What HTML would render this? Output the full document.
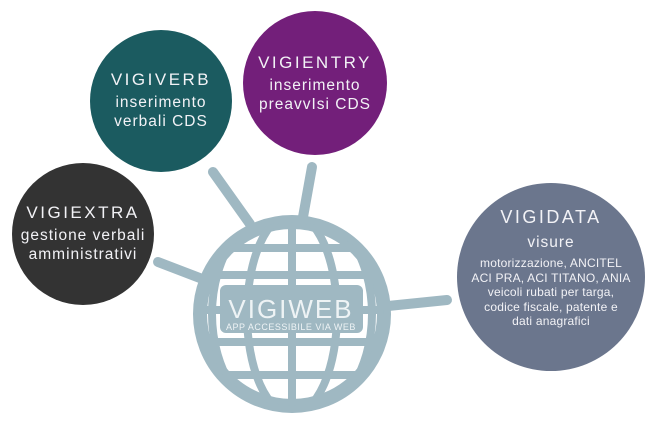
<!DOCTYPE html>
<html><head><meta charset="utf-8"><style>
body{margin:0;width:664px;height:430px;background:#fff;overflow:hidden;position:relative;font-family:"Liberation Sans",sans-serif}
.c{position:absolute;border-radius:50%;color:#f2f2f6;text-align:center;box-sizing:border-box}
.t{font-size:17px;letter-spacing:2.5px}
.s{font-size:15.5px;letter-spacing:1px;line-height:19px}
</style></head><body>
<svg width="664" height="430" style="position:absolute;left:0;top:0">
<defs><clipPath id="g"><circle cx="292" cy="314" r="92"/></clipPath></defs>
<g stroke="#9fb8c2" stroke-linecap="round" fill="none">
<line x1="213" y1="172" x2="250" y2="224" stroke-width="10"/>
<line x1="312" y1="167" x2="303" y2="217" stroke-width="10"/>
<line x1="158" y1="262" x2="205" y2="280" stroke-width="10"/>
<line x1="388" y1="306" x2="447" y2="300" stroke-width="10"/>
<circle cx="292" cy="314" r="92" stroke-width="14"/>
<g clip-path="url(#g)" stroke-width="8">
<line x1="292" y1="210" x2="292" y2="420"/>
<ellipse cx="292" cy="314" rx="45" ry="100"/>
<ellipse cx="292" cy="314" rx="80" ry="110"/>
<line x1="180" y1="248" x2="410" y2="248"/>
<line x1="180" y1="275" x2="410" y2="275"/>
<line x1="180" y1="310" x2="410" y2="310"/>
<line x1="180" y1="342" x2="410" y2="342"/>
<line x1="180" y1="375" x2="410" y2="375"/>
</g>
</g>
<rect x="220" y="285" width="143" height="48" rx="6" fill="#9fb8c2"/>
<text x="291" y="318" text-anchor="middle" fill="#eef3f5" font-family="Liberation Sans" font-size="26" letter-spacing="2">VIGIWEB</text>
<text x="291" y="330" text-anchor="middle" fill="#eef3f5" font-family="Liberation Sans" font-size="9" letter-spacing="0.5">APP ACCESSIBILE VIA WEB</text>
</svg>
<div class="c" style="left:90px;top:30px;width:142px;height:142px;background:#1b5b60;padding-top:40px"><div class="t">VIGIVERB</div><div class="s" style="margin-top:3px">inserimento<br>verbali CDS</div></div>
<div class="c" style="left:243px;top:11px;width:144px;height:144px;background:#731f7a;padding-top:42px"><div class="t">VIGIENTRY</div><div class="s" style="margin-top:3px">inserimento<br>preavvIsi CDS</div></div>
<div class="c" style="left:12px;top:163px;width:142px;height:142px;background:#333;padding-top:40px"><div class="t">VIGIEXTRA</div><div class="s" style="margin-top:3px">gestione verbali<br>amministrativi</div></div>
<div class="c" style="left:457px;top:183px;width:188px;height:188px;background:#6b768d;padding-top:24px"><div class="t" style="font-size:18px">VIGIDATA</div><div class="s" style="margin-top:5px;font-size:15.5px">visure</div><div style="font-size:12px;line-height:14.5px;margin-top:4px;letter-spacing:0.2px">motorizzazione, ANCITEL<br>ACI PRA, ACI TITANO, ANIA<br>veicoli rubati per targa,<br>codice fiscale, patente e<br>dati anagrafici</div></div>
</body></html>
